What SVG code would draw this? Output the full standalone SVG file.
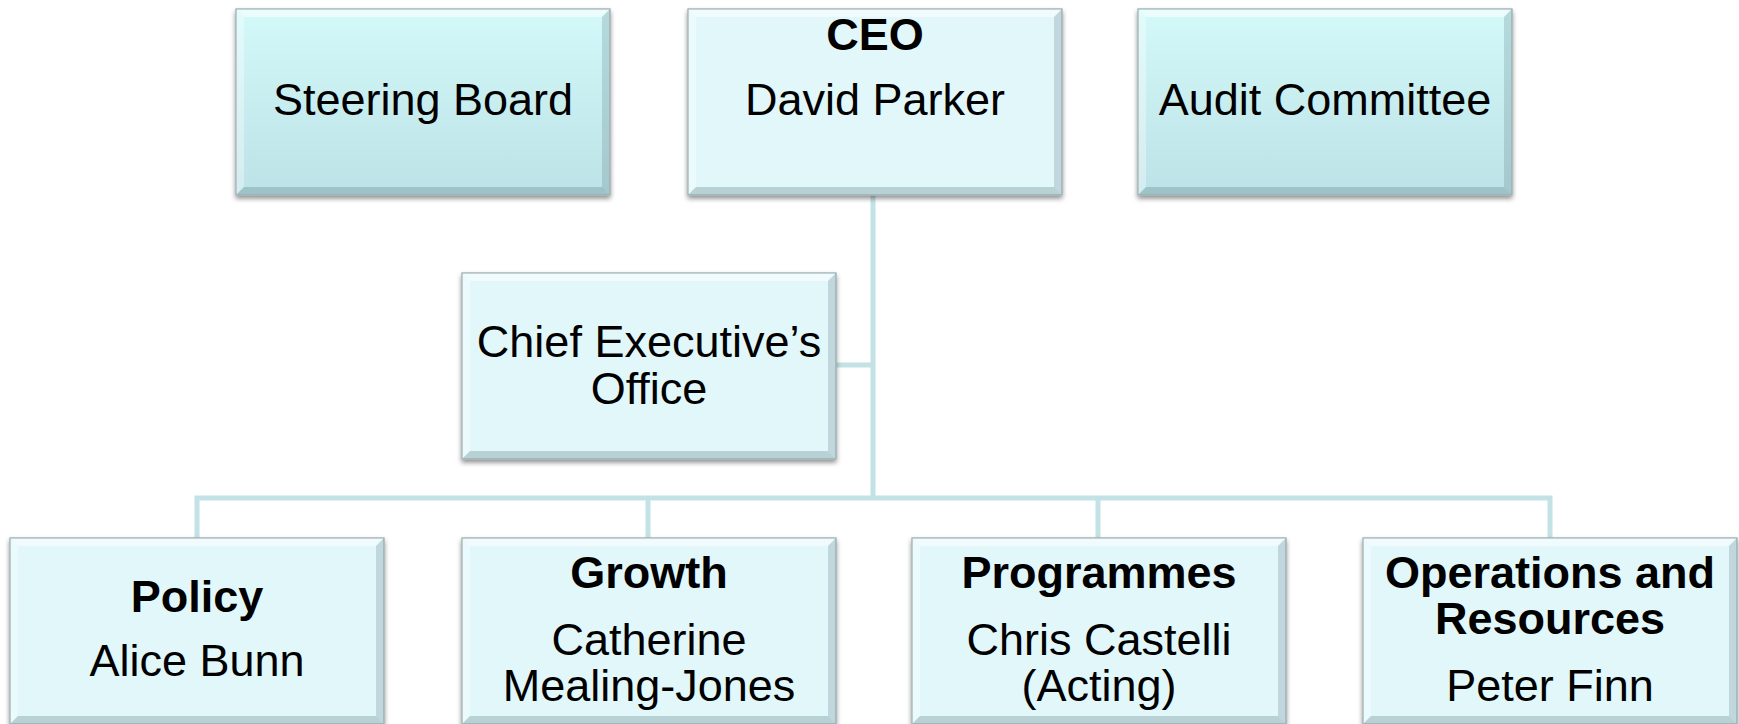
<svg xmlns="http://www.w3.org/2000/svg" xmlns:xlink="http://www.w3.org/1999/xlink" width="1739" height="724" viewBox="0 0 1739 724">
<style>
.box{stroke:#9fb3b6;stroke-width:1;filter:url(#sh)}
.light{fill:#e1f7fa}
.grad{fill:url(#g1)}
.t{font-family:"Liberation Sans",Arial,sans-serif;font-size:45px;fill:#000;text-anchor:middle}
.b{font-weight:bold}
.conn{fill:none;stroke:#c3e2e5;stroke-width:5;stroke-linejoin:miter}
</style>
<defs>
<linearGradient id="g1" x1="0" y1="0" x2="0" y2="1">
<stop offset="0" stop-color="#d3f9f9"/>
<stop offset="1" stop-color="#bde2e7"/>
</linearGradient>
<filter id="sh" x="-5%" y="-5%" width="110%" height="120%">
<feDropShadow dx="0" dy="3" stdDeviation="2.5" flood-color="#000" flood-opacity="0.45"/>
</filter>
<g id="bev">
<polygon points="0,0 374,0 366,8 8,8" fill="#ffffff" opacity="0.55"/>
<polygon points="0,0 8,8 8,178 0,186" fill="#ffffff" opacity="0.35"/>
<polygon points="374,0 374,186 366,178 366,8" fill="#4d6f75" opacity="0.22"/>
<polygon points="0,186 8,178 366,178 374,186" fill="#4d6f75" opacity="0.28"/>
<rect x="0" y="0" width="374" height="186" fill="none" stroke="#a5b6b8" stroke-width="1"/>
</g>
</defs>
<rect width="1739" height="724" fill="#ffffff"/>
<g id="connectors">
<path class="conn" d="M873,195 V498"/>
<path class="conn" d="M835,365 H873"/>
<path class="conn" d="M197,538 V498 H1550 V538"/>
<path class="conn" d="M648,498 V538"/>
<path class="conn" d="M1098,498 V538"/>
</g>
<g id="steering-board">
<rect class="box grad" x="236" y="9" width="374" height="186"/>
<use xlink:href="#bev" x="236" y="9"/>
<text class="t" x="423" y="115">Steering Board</text>
</g>
<g id="ceo">
<rect class="box light" x="688" y="9" width="374" height="186"/>
<use xlink:href="#bev" x="688" y="9"/>
<text class="t b" x="875" y="50">CEO</text>
<text class="t" x="875" y="115">David Parker</text>
</g>
<g id="audit-committee">
<rect class="box grad" x="1138" y="9" width="374" height="186"/>
<use xlink:href="#bev" x="1138" y="9"/>
<text class="t" x="1325" y="115">Audit Committee</text>
</g>
<g id="chief-executives-office">
<rect class="box light" x="462" y="273" width="374" height="186"/>
<use xlink:href="#bev" x="462" y="273"/>
<text class="t" x="649" y="357">Chief Executive’s</text>
<text class="t" x="649" y="404">Office</text>
</g>
<g id="policy">
<rect class="box light" x="10" y="538" width="374" height="186"/>
<use xlink:href="#bev" x="10" y="538"/>
<text class="t b" x="197" y="612">Policy</text>
<text class="t" x="197" y="676">Alice Bunn</text>
</g>
<g id="growth">
<rect class="box light" x="462" y="538" width="374" height="186"/>
<use xlink:href="#bev" x="462" y="538"/>
<text class="t b" x="649" y="588">Growth</text>
<text class="t" x="649" y="655">Catherine</text>
<text class="t" x="649" y="701">Mealing-Jones</text>
</g>
<g id="programmes">
<rect class="box light" x="912" y="538" width="374" height="186"/>
<use xlink:href="#bev" x="912" y="538"/>
<text class="t b" x="1099" y="588">Programmes</text>
<text class="t" x="1099" y="655">Chris Castelli</text>
<text class="t" x="1099" y="701">(Acting)</text>
</g>
<g id="operations-and-resources">
<rect class="box light" x="1363" y="538" width="374" height="186"/>
<use xlink:href="#bev" x="1363" y="538"/>
<text class="t b" x="1550" y="588">Operations and</text>
<text class="t b" x="1550" y="634">Resources</text>
<text class="t" x="1550" y="701">Peter Finn</text>
</g>
</svg>
